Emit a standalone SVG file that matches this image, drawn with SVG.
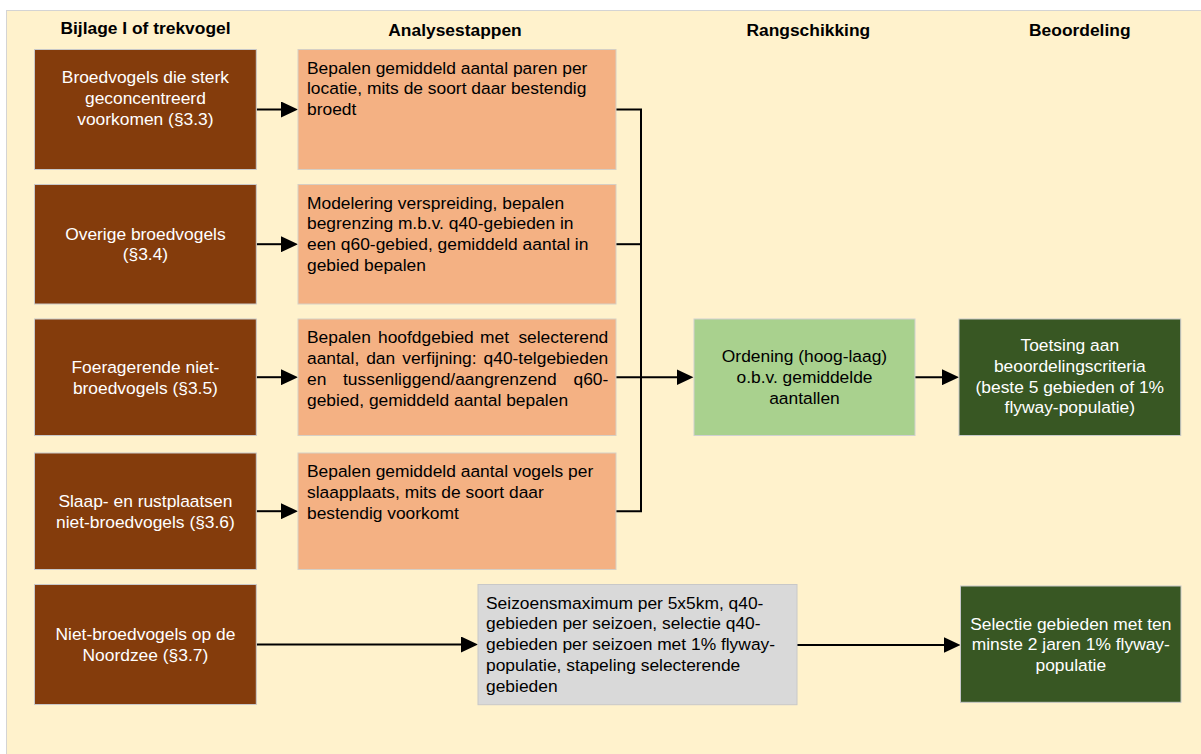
<svg xmlns="http://www.w3.org/2000/svg" width="1201" height="754" viewBox="0 0 1201 754">
<style>
.t{font-family:"Liberation Sans",Arial,sans-serif;font-size:17.4px;fill:#000}
.w{fill:#fff}
.c{text-anchor:middle}
.h{font-weight:bold;text-anchor:middle}
.br{fill:#843C0C;stroke:#C8C8C8;stroke-width:1}
.an{fill:#F4B183;stroke:#D6CFC4;stroke-width:1}
.lg{fill:#A9D18E;stroke:#D0D0D0;stroke-width:1}
.dg{fill:#385723;stroke:#C8C8C8;stroke-width:1}
.gr{fill:#D9D9D9;stroke:#C8C8C8;stroke-width:1}
.ln{fill:none;stroke:#000;stroke-width:2}
.ar{marker-end:url(#ah)}
</style>
<defs>
<marker id="ah" markerUnits="userSpaceOnUse" markerWidth="17" markerHeight="16" refX="7" refY="8" orient="auto">
<path d="M0,0 L17,8 L0,16 z" fill="#000"/>
</marker>
</defs>
<rect x="6.5" y="10.5" width="1200" height="750" fill="#FFF2CC" stroke="#D4D4D4" stroke-width="1"/>
<g id="headers" class="t">
<text class="t h" x="145.5" y="34.3">Bijlage I of trekvogel</text>
<text class="t h" x="455" y="36">Analysestappen</text>
<text class="t h" x="808.3" y="36">Rangschikking</text>
<text class="t h" x="1079.8" y="36">Beoordeling</text>
</g>
<g id="connectors">
<path class="ln ar" d="M256.5,109.5 H288"/>
<path class="ln ar" d="M256.5,244.2 H288"/>
<path class="ln ar" d="M256.5,377.2 H288"/>
<path class="ln ar" d="M256.5,511.2 H288"/>
<path class="ln" d="M616,109.5 H641 V511.2 H616"/>
<path class="ln" d="M616,244.2 H641"/>
<path class="ln ar" d="M616,377.2 H683.5"/>
<path class="ln ar" d="M915,377.2 H949"/>
<path class="ln ar" d="M256.5,644.5 H468"/>
<path class="ln ar" d="M797,645 H950.5"/>
</g>
<g id="b1">
<rect class="br" x="34.5" y="49.5" width="221.8" height="120"/>
<text class="t w c" x="145.4" y="83.3">Broedvogels die sterk</text>
<text class="t w c" x="145.4" y="104">geconcentreerd</text>
<text class="t w c" x="145.4" y="124.6">voorkomen (§3.3)</text>
</g>
<g id="b2">
<rect class="br" x="34.5" y="184.5" width="221.8" height="119.5"/>
<text class="t w c" x="145.4" y="239.6">Overige broedvogels</text>
<text class="t w c" x="145.4" y="260.4">(§3.4)</text>
</g>
<g id="b3">
<rect class="br" x="34.5" y="319" width="221.8" height="116.5"/>
<text class="t w c" x="145.4" y="372.8">Foeragerende niet-</text>
<text class="t w c" x="145.4" y="393.6">broedvogels (§3.5)</text>
</g>
<g id="b4">
<rect class="br" x="34.5" y="453" width="221.8" height="116.5"/>
<text class="t w c" x="145.4" y="506.8">Slaap- en rustplaatsen</text>
<text class="t w c" x="145.4" y="527.6">niet-broedvogels (§3.6)</text>
</g>
<g id="b5">
<rect class="br" x="34.5" y="584.5" width="221.8" height="120"/>
<text class="t w c" x="145.4" y="640">Niet-broedvogels op de</text>
<text class="t w c" x="145.4" y="660.8">Noordzee (§3.7)</text>
</g>
<g id="a1">
<rect class="an" x="298" y="49.5" width="318" height="120"/>
<text class="t" x="307" y="73.5">Bepalen gemiddeld aantal paren per</text>
<text class="t" x="307" y="94.3">locatie, mits de soort daar bestendig</text>
<text class="t" x="307" y="115.1">broedt</text>
</g>
<g id="a2">
<rect class="an" x="298" y="184.5" width="318" height="119.5"/>
<text class="t" x="307" y="208.5">Modelering verspreiding, bepalen</text>
<text class="t" x="307" y="229.3">begrenzing m.b.v. q40-gebieden in</text>
<text class="t" x="307" y="250.1">een q60-gebied, gemiddeld aantal in</text>
<text class="t" x="307" y="270.9">gebied bepalen</text>
</g>
<g id="a3">
<rect class="an" x="298" y="319" width="318" height="116.5"/>
<text class="t" y="343.2"><tspan x="307">Bepalen</tspan><tspan x="378">hoofdgebied</tspan><tspan x="480">met</tspan><tspan x="608.3" text-anchor="end">selecterend</tspan></text>
<text class="t" y="364"><tspan x="307">aantal,</tspan><tspan x="366.2">dan</tspan><tspan x="402.2">verfijning:</tspan><tspan x="608.3" text-anchor="end">q40-telgebieden</tspan></text>
<text class="t" y="384.8"><tspan x="307">en</tspan><tspan x="343">tussenliggend/aangrenzend</tspan><tspan x="608.3" text-anchor="end">q60-</tspan></text>
<text class="t" x="307" y="405.6">gebied, gemiddeld aantal bepalen</text>
</g>
<g id="a4">
<rect class="an" x="298" y="453" width="318" height="116.5"/>
<text class="t" x="307" y="477">Bepalen gemiddeld aantal vogels per</text>
<text class="t" x="307" y="497.8">slaapplaats, mits de soort daar</text>
<text class="t" x="307" y="518.6">bestendig voorkomt</text>
</g>
<g id="r1">
<rect class="lg" x="694" y="319" width="221" height="116.5"/>
<text class="t c" x="804.5" y="362.2">Ordening (hoog-laag)</text>
<text class="t c" x="804.5" y="383">o.b.v. gemiddelde</text>
<text class="t c" x="804.5" y="403.8">aantallen</text>
</g>
<g id="o1">
<rect class="dg" x="959" y="319" width="221.7" height="116.5"/>
<text class="t w c" x="1069.8" y="351">Toetsing aan</text>
<text class="t w c" x="1069.8" y="371.8">beoordelingscriteria</text>
<text class="t w c" x="1069.8" y="392.6">(beste 5 gebieden of 1%</text>
<text class="t w c" x="1069.8" y="413.4">flyway-populatie)</text>
</g>
<g id="a5">
<rect class="gr" x="478" y="584.5" width="319" height="120.2"/>
<text class="t" x="486" y="608.5">Seizoensmaximum per 5x5km, q40-</text>
<text class="t" x="486" y="629.3">gebieden per seizoen, selectie q40-</text>
<text class="t" x="486" y="650.1">gebieden per seizoen met 1% flyway-</text>
<text class="t" x="486" y="670.9">populatie, stapeling selecterende</text>
<text class="t" x="486" y="691.7">gebieden</text>
</g>
<g id="o2">
<rect class="dg" x="960.5" y="586" width="220.5" height="116.3"/>
<text class="t w c" x="1070.8" y="629.5">Selectie gebieden met ten</text>
<text class="t w c" x="1070.8" y="650.3">minste 2 jaren 1% flyway-</text>
<text class="t w c" x="1070.8" y="671.1">populatie</text>
</g>
</svg>
